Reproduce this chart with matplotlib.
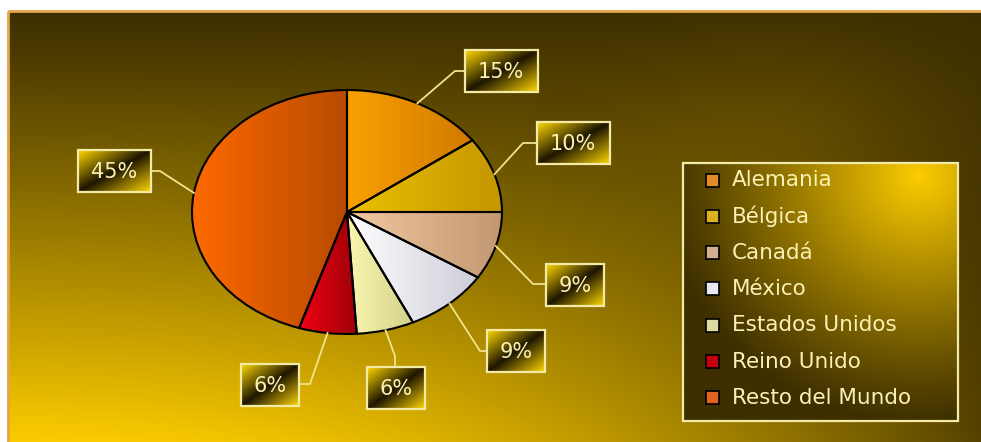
import numpy as np
import matplotlib
matplotlib.use("Agg")
import matplotlib.pyplot as plt
from matplotlib.patches import Rectangle
from matplotlib.colors import to_rgb

# exportaciones por destino (%)
paises = ["Alemania", "Bélgica", "Canadá", "México", "Estados Unidos",
          "Reino Unido", "Resto del Mundo"]
porcentajes = [15, 10, 9, 9, 6, 6, 45]
etiquetas = [f"{p}%" for p in porcentajes]

# degradado de cada sector: claro (izquierda) -> oscuro (derecha)
claros = ["#f9a000", "#ecc000", "#f2c8a2", "#ffffff", "#faf6b0", "#f20014", "#ff6a00"]
oscuros = ["#d07a00", "#c49600", "#c29872", "#cccdd8", "#d2d28a", "#9c0008", "#b84a00"]
leyenda_col = ["#e08a28", "#dcb020", "#d4ae90", "#e8e8f4", "#dcdca0", "#c40010", "#e06420"]

# posiciones de las cajas de etiqueta y del codo de cada guia (pixeles)
caja_x = [501, 573, 575, 516, 396, 270, 114]
caja_y = [71, 143, 285, 351, 388, 385, 171]
codos = [(455, 71), (523, 143), (533, 284), (480, 351), (395, 356), (310, 384), (160, 171)]

W, H = 981, 442
oscuro = np.array(to_rgb("#3e2f00"))
brillante = np.array(to_rgb("#fccc00"))
texto_col = "#fbf1b5"
borde_col = "#f2eaa6"

fig = plt.figure(figsize=(W / 100, H / 100), dpi=100)
fig.patch.set_facecolor("white")

# fondo
bg = fig.add_axes([0, 0, 1, 1])
bg.set_xlim(0, W)
bg.set_ylim(H, 0)
bg.axis("off")
yy, xx = np.mgrid[0:1:300j, 0:1:600j]
b = yy ** 1.1 * (1 - 0.88 * xx ** 2)
b += 0.08 * np.exp(-(((xx - 0.8) / 0.15) ** 2 + ((yy - 0.25) / 0.2) ** 2))
b = np.clip(b, 0, 1)[..., None]
bg.imshow(oscuro + (brillante - oscuro) * b, extent=(9, W, H, 12),
          aspect="auto", interpolation="bilinear")
bg.add_patch(Rectangle((7.5, 10.5), W + 10, H + 10, fill=False,
                       edgecolor="#e6a446", linewidth=2))

# tarta (eliptica)
cx, cy, rx, ry = 347, 212, 155, 122
ax = fig.add_axes([(cx - rx) / W, (H - cy - ry) / H, 2 * rx / W, 2 * ry / H])
ax.set_zorder(2)
wedges, _ = ax.pie(porcentajes, startangle=90, counterclock=False, radius=1,
                   wedgeprops=dict(edgecolor="black", linewidth=1.5))
g = np.linspace(0, 1, 256)[None, :, None]
for w, c1, c2 in zip(wedges, claros, oscuros):
    ext = w.get_path().get_extents()
    grad = np.array(to_rgb(c1)) * (1 - g) + np.array(to_rgb(c2)) * g
    im = ax.imshow(grad, extent=(ext.x0, ext.x1, ext.y0, ext.y1),
                   aspect="auto", interpolation="bilinear", zorder=0.5)
    im.set_clip_path(w)
    w.set_facecolor("none")
    w.set_clip_on(False)
ax.set_aspect("auto")
ax.set_xlim(-1, 1)
ax.set_ylim(-1, 1)
ax.axis("off")

# capa superior: guias, etiquetas y leyenda
ov = fig.add_axes([0, 0, 1, 1])
ov.set_zorder(3)
ov.set_xlim(0, W)
ov.set_ylim(H, 0)
ov.axis("off")
ov.patch.set_alpha(0)

frac = np.cumsum([0] + porcentajes) / sum(porcentajes)
medios = np.radians((frac[:-1] + frac[1:]) / 2 * 360)

# relleno de las cajas: esquinas sup-izq e inf-der claras, diagonal oscura
u, v = np.mgrid[0:1:60j, 0:1:100j]
s = np.abs((u + v) - 1)
caja_oscuro = np.array(to_rgb("#1e1600"))
caja_claro = np.array(to_rgb("#ffd800"))
caja_grad = caja_oscuro + (caja_claro - caja_oscuro) * s[..., None]

for i, txt in enumerate(etiquetas):
    bw, bh = 15 * len(txt) + 28, 42
    x0, x1 = caja_x[i] - bw / 2, caja_x[i] + bw / 2
    y0, y1 = caja_y[i] - bh / 2, caja_y[i] + bh / 2
    px = cx + rx * np.sin(medios[i])
    py = cy - ry * np.cos(medios[i])
    ex, ey = codos[i]
    if ex < x0:
        fx, fy = x0, ey
    elif ex > x1:
        fx, fy = x1, ey
    elif ey < y0:
        fx, fy = ex, y0
    else:
        fx, fy = ex, y1
    ov.plot([px, ex, fx], [py, ey, fy], color="#f0e48e", linewidth=1.3)
    ov.imshow(caja_grad, extent=(x0, x1, y1, y0), aspect="auto",
              interpolation="bilinear", zorder=2)
    ov.add_patch(Rectangle((x0, y0), bw, bh, fill=False, edgecolor=borde_col,
                           linewidth=1.6, zorder=3))
    ov.text(caja_x[i], caja_y[i] + 1, txt, color=texto_col, fontsize=15,
            ha="center", va="center", zorder=4)

# leyenda
lx0, lx1, ly0, ly1 = 683, 958, 163, 421
ly, lx = np.mgrid[ly0:ly1:120j, lx0:lx1:140j]
d = np.sqrt(((lx - 920) / 260) ** 2 + ((ly - 175) / 250) ** 2)
lb = np.clip(1 - d, 0, 1) ** 1.1
ov.imshow(oscuro + (brillante - oscuro) * lb[..., None],
          extent=(lx0, lx1, ly1, ly0), aspect="auto", interpolation="bilinear", zorder=2)
ov.add_patch(Rectangle((lx0, ly0), lx1 - lx0, ly1 - ly0, fill=False,
                       edgecolor=borde_col, linewidth=1.6, zorder=3))
for i, (nombre, col) in enumerate(zip(paises, leyenda_col)):
    yr = 180 + 36.3 * i
    ov.add_patch(Rectangle((706, yr - 6.5), 13, 13, facecolor=col,
                           edgecolor="black", linewidth=1.2, zorder=4))
    ov.text(732, yr, nombre, color=texto_col, fontsize=15.5, ha="left",
            va="center", zorder=4)

ov.set_xlim(0, W)
ov.set_ylim(H, 0)

fig.savefig("out.png", dpi=100)
